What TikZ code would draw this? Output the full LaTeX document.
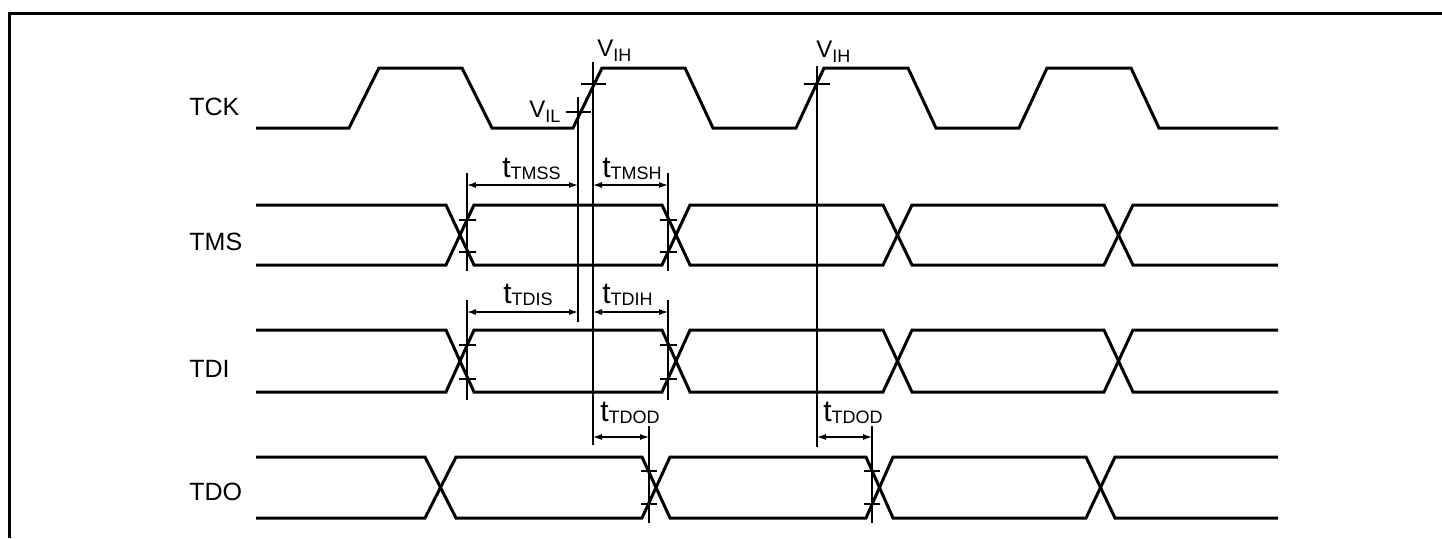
\documentclass[tikz,border=0pt]{standalone}
\usepackage{fontspec}
\setmainfont{Liberation Sans}
\usetikzlibrary{arrows.meta}
\newcommand\Vlab[1]{{\fontsize{12}{14}\selectfont V\raisebox{-2.5pt}{\fontsize{9}{10}\selectfont #1}}}
\newcommand\tlab[1]{{\fontsize{15}{17}\selectfont t\raisebox{-1pt}{\fontsize{9}{10}\selectfont #1}}}
\begin{document}
\begin{tikzpicture}[x=0.5pt,y=-0.5pt,
  sig/.style={line width=1.5pt},
  thinline/.style={line width=0.6pt},
  dim/.style={line width=0.6pt,{Latex[length=4.5pt,width=3pt]}-{Latex[length=4.5pt,width=3pt]}},
  signame/.style={anchor=base west,inner sep=0pt,font=\fontsize{12.5}{14}\selectfont},
  lab/.style={anchor=base west,inner sep=0pt}]
\useasboundingbox (0,0) rectangle (1442,538);
% frame
\draw[line width=1.5pt] (9,538) -- (9,13) -- (1442,13);
% signal names
\node[signame] (tck) at (189,115) {TCK};
\node[signame] (tms) at (189,250) {TMS};
\node[signame] (tdi) at (189,377) {TDI};
\node[signame] (tdo) at (189,500) {TDO};
% TCK
\draw[sig] (256,128) -- (349,128) -- (379,68) -- (462,68) -- (492,128) -- (573,128) -- (602,68) -- (685,68) -- (713,128) -- (796,128) -- (824,68) -- (908,68) -- (936,128) -- (1019,128) -- (1047,68) -- (1131,68) -- (1159,128) -- (1278,128);
% TMS
\draw[sig] (256,205) -- (446,205) -- (474,265) -- (662,265) -- (690,205) -- (883,205) -- (912,265) -- (1104,265) -- (1133,205) -- (1278,205);
\draw[sig] (256,265) -- (446,265) -- (474,205) -- (662,205) -- (690,265) -- (883,265) -- (912,205) -- (1104,205) -- (1133,265) -- (1278,265);
% TDI
\draw[sig] (256,330) -- (446,330) -- (474,392) -- (662,392) -- (690,330) -- (883,330) -- (912,392) -- (1104,392) -- (1133,330) -- (1278,330);
\draw[sig] (256,392) -- (446,392) -- (474,330) -- (662,330) -- (690,392) -- (883,392) -- (912,330) -- (1104,330) -- (1133,392) -- (1278,392);
% TDO
\draw[sig] (256,457) -- (425,457) -- (456,518) -- (642,518) -- (670,457) -- (866,457) -- (893,518) -- (1086,518) -- (1115,457) -- (1278,457);
\draw[sig] (256,518) -- (425,518) -- (456,457) -- (642,457) -- (670,518) -- (866,518) -- (893,457) -- (1086,457) -- (1115,518) -- (1278,518);
% reference coordinates
\coordinate (il-t) at (578,97);   \coordinate (il-b) at (578,322);
\coordinate (ih-t) at (593,62);   \coordinate (ih-b) at (593,445);
\coordinate (ih2-t) at (817,66);  \coordinate (ih2-b) at (817,447);
\coordinate (ms-t) at (467,173);  \coordinate (ms-b) at (467,271);
\coordinate (mh-t) at (668,173);  \coordinate (mh-b) at (668,271);
\coordinate (ds-t) at (467,300);  \coordinate (ds-b) at (467,400);
\coordinate (dh-t) at (668,300);  \coordinate (dh-b) at (668,400);
\coordinate (o1-t) at (649,426);  \coordinate (o1-b) at (649,523);
\coordinate (o2-t) at (872,426);  \coordinate (o2-b) at (872,523);
% vertical reference lines
\foreach \n in {il,ih,ih2,ms,mh,ds,dh,o1,o2} \draw[thinline] (\n-t) -- (\n-b);
% level crosshair ticks
\draw[thinline] (566,112) -- (591,112);
\draw[thinline] (581,84) -- (606,84);
\draw[thinline] (804,84) -- (830,84);
\foreach \x in {467,668} {
  \draw[thinline] (\x-8,220) -- (\x+9,220);
  \draw[thinline] (\x-8,252) -- (\x+9,252);
  \draw[thinline] (\x-8,345) -- (\x+9,345);
  \draw[thinline] (\x-8,379) -- (\x+9,379);
}
\foreach \x in {649,872} {
  \draw[thinline] (\x-8,471) -- (\x+8,471);
  \draw[thinline] (\x-8,504) -- (\x+8,504);
}
% dimension arrows
\draw[dim] (ms-t |- 0,185) -- (il-t |- 0,185);
\draw[dim] (ih-t |- 0,185) -- (mh-t |- 0,185);
\draw[dim] (ds-t |- 0,312) -- (il-t |- 0,312);
\draw[dim] (ih-t |- 0,312) -- (dh-t |- 0,312);
\draw[dim] (ih-t |- 0,437) -- (o1-t |- 0,437);
\draw[dim] (ih2-t |- 0,437) -- (o2-t |- 0,437);
% labels
\node[lab] (vil) at (529,117) {\Vlab{IL}};
\node[lab] (vih1) at (597,56) {\Vlab{IH}};
\node[lab] (vih2) at (816,57) {\Vlab{IH}};
\node[lab] (tmss) at (502,177) {\tlab{TMSS}};
\node[lab] (tmsh) at (602,177) {\tlab{TMSH}};
\node[lab] (tdis) at (503,303) {\tlab{TDIS}};
\node[lab] (tdih) at (602,303) {\tlab{TDIH}};
\node[lab] (tdod1) at (600,421) {\tlab{TDOD}};
\node[lab] (tdod2) at (823,421) {\tlab{TDOD}};
\end{tikzpicture}
\end{document}
